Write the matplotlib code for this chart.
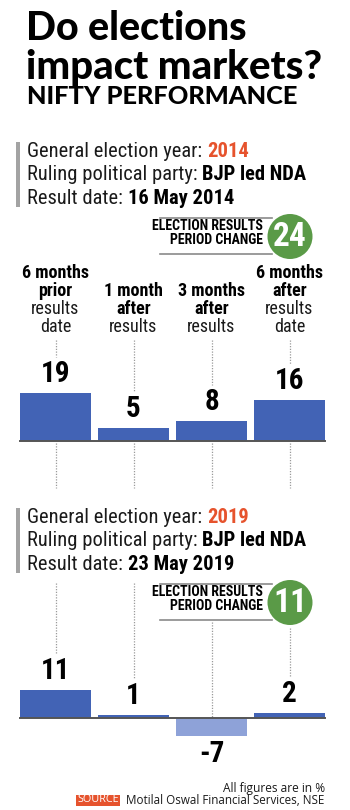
"""
Do elections impact markets? Nifty performance around the 2014 and 2019
general election results.
"""

import matplotlib

matplotlib.use("Agg")
import matplotlib.pyplot as plt
from matplotlib import font_manager
from matplotlib.patches import Circle, Rectangle

# Data
cat_bold = [["6 months", "prior"], ["1 month", "after"],
            ["3 months", "after"], ["6 months", "after"]]
cat_regular = [["results", "date"], ["results"], ["results"], ["results", "date"]]

years = ["2014", "2019"]
parties = ["BJP led NDA", "BJP led NDA"]
result_dates = ["16 May 2014", "23 May 2019"]
changes_2014 = [19, 5, 8, 16]
changes_2019 = [11, 1, -7, 2]
period_change = [24, 11]

# Figure size in pixels
W, H = 350, 810
DPI = 100

BLUE = "#4263b5"
LIGHT_BLUE = "#8ea2d8"
ORANGE = "#e6532d"
GREEN = "#5a9a47"
GRAY = "#a3a3a3"
DOT = "#9a9a9a"
TEXT = "#1a1a1a"

available = {f.name for f in font_manager.fontManager.ttflist}


def pick(names, default):
    for n in names:
        if n in available:
            return n
    return default


COND = pick(["Liberation Sans Narrow", "DejaVu Sans Condensed", "Roboto Condensed"],
            "DejaVu Sans")
HEAVY = pick(["Lato", "Inter", "Open Sans"], "DejaVu Sans")
PLAIN = pick(["Open Sans", "Noto Sans", "Lato"], "DejaVu Sans")
cond = dict(family=COND, stretch="condensed")

fig = plt.figure(figsize=(W / DPI, H / DPI), dpi=DPI)
fig.patch.set_facecolor("white")

# Overlay axes in pixel units for text and decoration
bg = fig.add_axes([0, 0, 1, 1])
bg.set_xlim(0, W)
bg.set_ylim(H, 0)
bg.axis("off")
bg.set_zorder(3)
bg.patch.set_alpha(0)

renderer = fig.canvas.get_renderer()


def px_width(t):
    return t.get_window_extent(renderer).width * W / fig.bbox.width


def runs(x, y, parts, size):
    """Draw consecutive text pieces with different styles on one baseline."""
    for txt, kw in parts:
        t = bg.text(x, y, txt, fontsize=size, va="baseline", ha="left", **kw)
        x += px_width(t)


def fitted(x, y, s, size, width, **kw):
    """Text scaled so that it spans the given pixel width."""
    t = bg.text(x, y, s, fontsize=size, va="baseline", **kw)
    t.set_fontsize(size * width / px_width(t))
    return t


# Title
fitted(26, 40, "Do elections", 29, 221, fontweight="black", family=HEAVY, color="black")
fitted(26, 79, "impact markets?", 29, 296, fontweight="black", family=HEAVY,
       color="black")
fitted(27, 103.5, "NIFTY PERFORMANCE", 17, 271, fontweight="black", family=HEAVY,
       color="black")

# Bar column centres in pixels
C0, STEP, BW = 55.5, 78.0, 71.0 / 78.0
SCALE = 2.55  # px per percentage point


def bar_axes(top, bottom, baseline):
    ax = fig.add_axes([0, 1 - bottom / H, 1, (bottom - top) / H])
    ax.set_xlim(-C0 / STEP, (W - C0) / STEP)
    ax.set_ylim((baseline - bottom) / SCALE, (baseline - top) / SCALE)
    ax.axis("off")
    ax.patch.set_alpha(0)
    return ax


def draw_panel(b1, baseline, values, badge, year, party, date, dot_tops, dot_below):
    # info block
    bg.add_patch(Rectangle((16, b1 - 15), 4, 65, color=GRAY, lw=0))
    fs = 14.8
    runs(27, b1, [("General election year: ", dict(color=TEXT, **cond)),
                  (year, dict(color=ORANGE, fontweight="bold", **cond))], fs)
    runs(27, b1 + 23.5, [("Ruling political party: ", dict(color=TEXT, **cond)),
                         (party, dict(color="black", fontweight="bold", **cond))], fs)
    runs(27, b1 + 46.5, [("Result date: ", dict(color=TEXT, **cond)),
                         (date, dict(color="black", fontweight="bold", **cond))], fs)

    # badge
    by = b1 + 46.5
    bg.plot([160, 272], [by + 14, by + 14], color="#8a8a8a", lw=1.2)
    bg.plot([160, 272], [by + 50, by + 50], color="#8a8a8a", lw=1.2)
    bg.text(263, by + 27, "ELECTION RESULTS", fontsize=10, fontweight="bold",
            ha="right", va="baseline", color="black", **cond)
    bg.text(263, by + 41, "PERIOD CHANGE", fontsize=10, fontweight="bold",
            ha="right", va="baseline", color="black", **cond)
    bg.add_patch(Circle((290, by + 33), 22.5, color=GREEN, lw=0, zorder=4))
    bg.text(290, by + 34, str(badge), fontsize=24, fontweight="bold", color="white",
            ha="center", va="center", zorder=5, **cond)

    # bars
    ax = bar_axes(baseline - 200, baseline + 60, baseline)
    colors = [BLUE if v >= 0 else LIGHT_BLUE for v in values]
    xs = range(len(values))
    ax.bar(xs, values, width=BW, color=colors, zorder=2)
    ax.plot([-BW / 2, len(values) - 1 + BW / 2], [0, 0], color="#555555", lw=1.4,
            zorder=3)
    for i, v in enumerate(values):
        if v >= 0:
            ax.annotate(str(v), (i, v), xytext=(0, 19 * 0.72), textcoords="offset points",
                        ha="center", va="center", fontsize=21, fontweight="bold",
                        color="black", **cond)
            y_end = v + 36 / SCALE
        else:
            ax.annotate(str(v), (i, v), xytext=(0, -18 * 0.72), textcoords="offset points",
                        ha="center", va="center", fontsize=21, fontweight="bold",
                        color="black", **cond)
            y_end = 0
        y_start = (baseline - dot_tops[i]) / SCALE
        ax.plot([i, i], [y_start, y_end], color=DOT, lw=0.9, ls=(0, (1, 1.2)), zorder=1)
        if dot_below:
            ax.plot([i, i], [-2 / SCALE, -47 / SCALE], color=DOT, lw=0.9,
                    ls=(0, (1, 1.2)), zorder=1)


# Category labels (top panel only)
for i, (bold, reg) in enumerate(zip(cat_bold, cat_regular)):
    lines = [(s, "bold") for s in bold] + [(s, "normal") for s in reg]
    y = 332 - 18 * (len(lines) - 1)
    for s, w in lines:
        bg.text(C0 + STEP * i, y, s, fontsize=13, fontweight=w, ha="center",
                va="baseline", color="black" if w == "bold" else TEXT, **cond)
        y += 18

draw_panel(157, 441, changes_2014, period_change[0], years[0], parties[0],
           result_dates[0], [340, 340, 340, 340], True)
draw_panel(523, 718, changes_2019, period_change[1], years[1], parties[1],
           result_dates[1], [583, 583, 622, 628], False)

# Footer
t = bg.text(325, 792, "All figures are in %", fontsize=10, family=PLAIN, ha="right",
            va="baseline", color=TEXT)
t.set_fontsize(10 * 102 / px_width(t))
bg.add_patch(Rectangle((76, 794.5), 44, 11, color=ORANGE, lw=0))
bg.text(98, 800, "SOURCE", fontsize=7.8, family=PLAIN, ha="center", va="center",
        color="white")
fitted(126, 804, "Motilal Oswal Financial Services, NSE", 10, 199, family=PLAIN,
       ha="left", color=TEXT)

fig.savefig("out.png", dpi=DPI)
